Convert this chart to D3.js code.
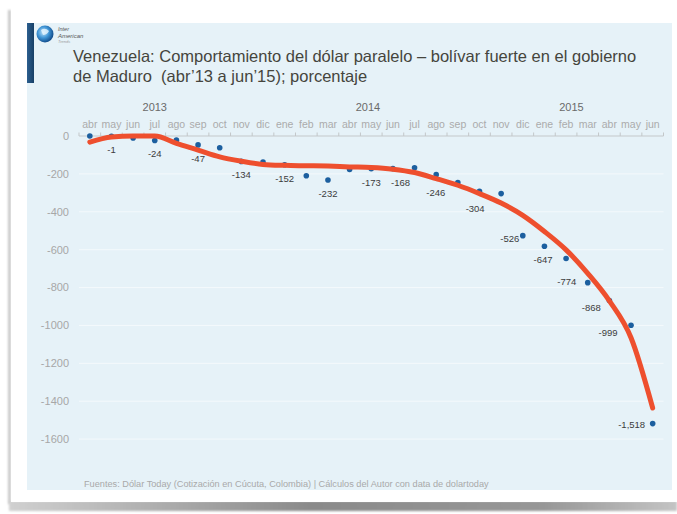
<!DOCTYPE html>
<html>
<head>
<meta charset="utf-8">
<script src="https://cdn.jsdelivr.net/npm/d3@7"></script>
<style>
  html, body { margin: 0; padding: 0; background: #ffffff; }
  svg { display: block; }
  text { font-family: "Liberation Sans", Arial, sans-serif; white-space: pre; }
</style>
</head>
<body>
<svg id="chart" width="677" height="514"></svg>
<script>
// Monthly categories, April 2013 – June 2015
const months = ["abr","may","jun","jul","ago","sep","oct","nov","dic",
                "ene","feb","mar","abr","may","jun","jul","ago","sep","oct","nov","dic",
                "ene","feb","mar","abr","may","jun"];
// Parallel dollar vs. bolívar fuerte, cumulative change (%)
const values = [0, -1, -10, -24, -22, -47, -62, -134, -138,
                -152, -210, -232, -177, -173, -172, -168, -204, -246, -292, -304, -526,
                -582, -647, -774, -868, -999, -1518];
// Months whose value is printed next to the point
const labelled = [1, 3, 5, 7, 9, 11, 13, 15, 17, 19, 20, 22, 23, 24, 25, 26];
// Trend line through the series
const trend = [-32, -5, 0, 0, -39, -74, -110, -133, -150,
               -155, -157, -159, -163, -166, -175, -193, -225, -260, -304, -354, -419,
               -504, -601, -725, -870, -1065, -1436];
// Year headers and the (fractional) month position each one sits over
const years = ["2013", "2014", "2015"];
const yearAt = [3, 12.85, 22.25];
const yTicks = [0, -200, -400, -600, -800, -1000, -1200, -1400, -1600];

const titleLines = [
  "Venezuela: Comportamiento del dólar paralelo – bolívar fuerte en el gobierno",
  "de Maduro  (abr’13 a jun’15); porcentaje"
];
const source = "Fuentes: Dólar Today (Cotización en Cúcuta, Colombia) | Cálculos del Autor con data de dolartoday";

const svg = d3.select("#chart");
const defs = svg.append("defs");

// ---- slide frame ----
const shadowBlur = defs.append("filter").attr("id", "soft").attr("x", "-50%").attr("y", "-50%").attr("width", "200%").attr("height", "200%");
shadowBlur.append("feGaussianBlur").attr("stdDeviation", 1.2);

const band = defs.append("linearGradient").attr("id", "band");
band.append("stop").attr("offset", "0").attr("stop-color", "#d0d0d0");
band.append("stop").attr("offset", "0.45").attr("stop-color", "#8a8a8a");
band.append("stop").attr("offset", "0.8").attr("stop-color", "#979797");
band.append("stop").attr("offset", "1").attr("stop-color", "#c4c4c4");

svg.append("rect").attr("x", 8).attr("y", 10).attr("width", 3).attr("height", 494)
  .attr("fill", "#c9c9c9").attr("filter", "url(#soft)");
svg.append("rect").attr("x", 9).attr("y", 501).attr("width", 668).attr("height", 10)
  .attr("fill", "url(#band)").attr("filter", "url(#soft)");
svg.append("rect").attr("x", 11).attr("y", 8).attr("width", 666).attr("height", 494).attr("fill", "#ffffff");

// ---- light blue panel ----
svg.append("rect").attr("x", 27).attr("y", 23).attr("width", 645).attr("height", 467).attr("fill", "#e6f2f8");

// accent bar
const barGrad = defs.append("linearGradient").attr("id", "accent").attr("x1", 0).attr("x2", 1);
barGrad.append("stop").attr("offset", "0").attr("stop-color", "#2c5f8f");
barGrad.append("stop").attr("offset", "1").attr("stop-color", "#173f66");
svg.append("rect").attr("x", 27).attr("y", 23).attr("width", 7).attr("height", 60).attr("fill", "url(#accent)");

// logo
const globe = defs.append("radialGradient").attr("id", "globe").attr("cx", "0.4").attr("cy", "0.4").attr("r", "0.6");
globe.append("stop").attr("offset", "0").attr("stop-color", "#bfe4fb");
globe.append("stop").attr("offset", "0.55").attr("stop-color", "#3f95d6");
globe.append("stop").attr("offset", "1").attr("stop-color", "#14508f");
svg.append("circle").attr("cx", 45).attr("cy", 34).attr("r", 8.5).attr("fill", "url(#globe)");
svg.append("path").attr("d", "M41,30 q4,-3 8,1 q-2,4 -6,4 z").attr("fill", "#e8f6ff").attr("opacity", 0.8);
const logo = svg.append("g").attr("fill", "#555").attr("font-style", "italic");
logo.append("text").attr("x", 58).attr("y", 31).attr("font-size", 5.5).text("Inter");
logo.append("text").attr("x", 58).attr("y", 37.5).attr("font-size", 6).text("American");
logo.append("text").attr("x", 58).attr("y", 43).attr("font-size", 4).attr("fill", "#999").text("Trends");

// ---- title ----
svg.append("g").selectAll("text").data(titleLines).join("text")
  .attr("x", 73).attr("y", (d, i) => 62 + i * 19.5)
  .attr("font-size", 16.5).attr("fill", "#45453d")
  .text(d => d);

// ---- scales ----
const x = d3.scaleBand().domain(d3.range(months.length)).range([79, 663.5]).paddingInner(0).paddingOuter(0);
const cx = i => x(i) + x.bandwidth() / 2;
const cxAt = t => x.range()[0] + (t + 0.5) * x.bandwidth();
const y = d3.scaleLinear().domain([-1800, 0]).range([477, 136]);

// plain hyphen for negatives, comma thousands
const loc = d3.formatLocale({decimal: ".", thousands: ",", grouping: [3], currency: ["", ""], minus: "-"});
const fmtPlain = loc.format("d");
const fmtComma = loc.format(",");

// gridlines
svg.append("g").selectAll("line").data(yTicks.filter(v => v !== 0)).join("line")
  .attr("x1", 79).attr("x2", 663.5)
  .attr("y1", d => y(d)).attr("y2", d => y(d))
  .attr("stroke", "#f4f9fc").attr("stroke-width", 1);

// y axis labels
svg.append("g").selectAll("text").data(yTicks).join("text")
  .attr("x", 69).attr("y", d => y(d)).attr("dy", "0.35em")
  .attr("text-anchor", "end").attr("font-size", 11).attr("fill", "#a7a7a7")
  .text(d => fmtPlain(d));

// x axis on the zero line, ticks pointing up at month boundaries
const xAxis = svg.append("g").attr("transform", `translate(0,${y(0)})`);
xAxis.append("line").attr("x1", 79).attr("x2", 663.5).attr("stroke", "#c3c7c9").attr("stroke-width", 1.2);
xAxis.selectAll("line.tick").data(d3.range(months.length + 1)).join("line")
  .attr("class", "tick")
  .attr("x1", i => 79 + i * x.bandwidth()).attr("x2", i => 79 + i * x.bandwidth())
  .attr("y1", 0).attr("y2", -3.5).attr("stroke", "#c3c7c9");

svg.append("g").selectAll("text").data(months).join("text")
  .attr("x", (d, i) => cx(i)).attr("y", 128)
  .attr("text-anchor", "middle").attr("font-size", 10.5).attr("fill", "#ababab")
  .text(d => d);

svg.append("g").selectAll("text").data(years).join("text")
  .attr("x", (d, i) => cxAt(yearAt[i])).attr("y", 111)
  .attr("text-anchor", "middle").attr("font-size", 11).attr("fill", "#6a6a6a")
  .text(d => d);

// ---- data points ----
svg.append("g").selectAll("circle").data(values).join("circle")
  .attr("cx", (d, i) => cx(i)).attr("cy", d => y(d)).attr("r", 2.8)
  .attr("fill", "#1c5f9f");

// value labels: under the point early on, to the left of it once the fall speeds up
const nudge = {15: [-14, 15], 17: [-22, 10], 19: [-26, 15], 20: [-13, 3], 22: [-23, 1],
               23: [-21, -1], 24: [-18, 7], 25: [-23, 7], 26: [-21, 1]};
svg.append("g").selectAll("text").data(labelled).join("text")
  .attr("x", i => cx(i) + (nudge[i] ? nudge[i][0] : 0))
  .attr("y", i => y(values[i]) + (nudge[i] ? nudge[i][1] : 13.5))
  .attr("dy", "0.35em").attr("text-anchor", "middle")
  .attr("font-size", 9.5).attr("fill", "#3c3c3c")
  .text(i => fmtComma(values[i]));

// ---- trend line ----
const line = d3.line().x((d, i) => cx(i)).y(d => y(d)).curve(d3.curveMonotoneX);
svg.append("path").datum(trend)
  .attr("d", line).attr("fill", "none")
  .attr("stroke", "#ee4f2e").attr("stroke-width", 5).attr("stroke-linecap", "round");

// ---- source ----
svg.append("text").attr("x", 84).attr("y", 484).attr("dy", "0.35em")
  .attr("font-size", 9.2).attr("fill", "#a9a9a9").text(source);
</script>
</body>
</html>
